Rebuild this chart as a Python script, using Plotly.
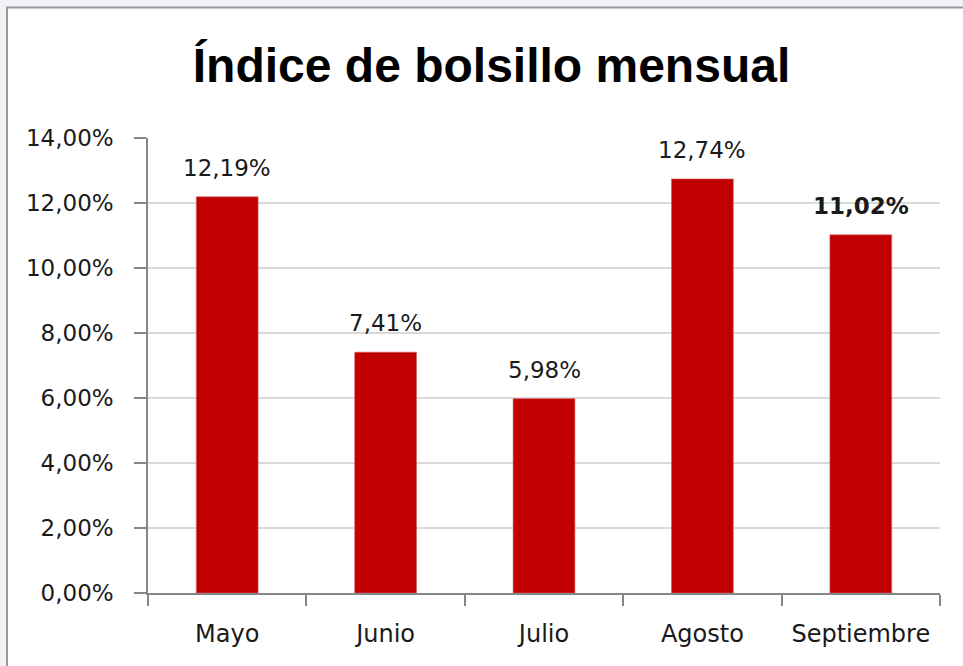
import plotly.graph_objects as go

months = ["Mayo", "Junio", "Julio", "Agosto", "Septiembre"]
values = [12.19, 7.41, 5.98, 12.74, 11.02]
bold_flags = [False, False, False, False, True]
y_ticks = [0, 2, 4, 6, 8, 10, 12, 14]
y_tick_labels = ["0,00%", "2,00%", "4,00%", "6,00%", "8,00%", "10,00%", "12,00%", "14,00%"]

BAR = "#C00000"
FONT = "DejaVu Sans, Verdana, sans-serif"

fig = go.Figure()
fig.add_trace(go.Bar(x=months, y=values, marker=dict(color=BAR, line=dict(color="#D9595B", width=0.6)),
                     hoverinfo="skip"))

for m, v, b in zip(months, values, bold_flags):
    t = f"{v:.2f}".replace(".", ",") + "%"
    if b:
        t = f"<b>{t}</b>"
    fig.add_annotation(x=m, y=v, text=t, showarrow=False, yanchor="bottom", yshift=14,
                       font=dict(family=FONT, size=23, color="#1a1a1a"))

W, H = 963, 666
L, R, T, B = 148, 23, 138, 73
pw, ph = W - L - R, H - T - B

def px(x):
    return (x - L) / pw

def py(y):
    return (H - B - y) / ph

fig.add_shape(type="rect", xref="paper", yref="paper", x0=px(7), x1=px(985), y0=py(7.5), y1=py(690),
              line=dict(color="#9A9A9A", width=2), fillcolor="white", layer="below")

fig.update_layout(
    width=W, height=H,
    margin=dict(l=L, r=R, t=T, b=B),
    paper_bgcolor="#F2F3F8", plot_bgcolor="rgba(0,0,0,0)",
    showlegend=False, bargap=0.61,
    title=dict(text="<b>Índice de bolsillo mensual</b>", x=491.5 / W, xanchor="center",
               y=1 - 65 / H, yanchor="middle",
               font=dict(family="Liberation Sans, Arial, sans-serif", size=48, color="#000000")),
)
fig.update_xaxes(showline=True, linecolor="#868686", linewidth=1.5, ticks="outside", tickson="boundaries",
                 ticklen=11, tickcolor="#868686", tickwidth=1.5, showgrid=False,
                 tickfont=dict(family=FONT, size=24, color="#1a1a1a"),
                 ticklabelstandoff=18)
fig.update_yaxes(range=[0, 14], tickvals=y_ticks, ticktext=y_tick_labels, showline=True, linecolor="#868686",
                 linewidth=1.5, ticks="outside", ticklen=12, tickcolor="#868686", tickwidth=1.5,
                 showgrid=True, gridcolor="#D9D9D9", gridwidth=1.5, zeroline=False,
                 tickfont=dict(family=FONT, size=23, color="#1a1a1a"),
                 ticklabelstandoff=16)

fig.write_html("out.html", config={"displayModeBar": False},
               post_script="document.body.style.margin='0';")
